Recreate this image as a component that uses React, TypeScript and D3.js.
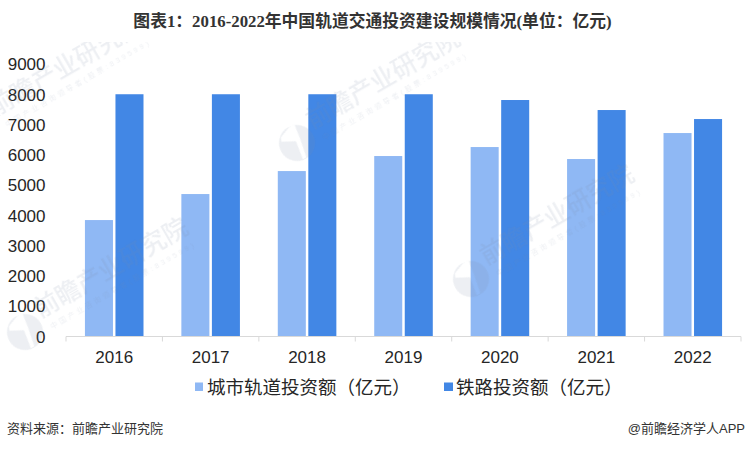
import React from "react";
import * as d3 from "d3";

const years = ["2016", "2017", "2018", "2019", "2020", "2021", "2022"];
const urbanRail = [3850, 4710, 5470, 5967, 6264, 5868, 6727];
const railway = [8010, 8010, 8010, 8010, 7819, 7488, 7190];
const yTicks = [0, 1000, 2000, 3000, 4000, 5000, 6000, 7000, 8000, 9000];
const seriesNames = ["城市轨道投资额（亿元）", "铁路投资额（亿元）"];
const seriesColors = ["#8fb8f4", "#4287e5"];
const title = "图表1：2016-2022年中国轨道交通投资建设规模情况(单位：亿元)";
const sourceText = "资料来源：前瞻产业研究院";
const brandText = "@前瞻经济学人APP";
const watermarkMain = "前瞻产业研究院";
const watermarkSub = "中国产业咨询领导者(股票:839599)";
const watermarkSpots = [
  [-20, 130],
  [25, 332],
  [297, 143],
  [471, 279],
];

const W = 745;
const H = 449;
const cjk = '"Liberation Sans", "Noto Sans CJK SC", sans-serif';
const titleFont = '"Liberation Serif", "Noto Sans CJK SC", serif';
const logoPath =
  "M-18,0 A18,18 0 1,1 18,0 A18,18 0 1,1 -18,0 Z " +
  "M2,-18 L7,-17 L5,-3 L1,17 L-3,17 L0,-2 L-13,-9 L-11,-13 Z";

export default function App() {
  const x = d3.scaleBand<string>().domain(years).range([66, 741]);
  const inner = d3
    .scaleBand<number>()
    .domain([0, 1])
    .range([0, x.bandwidth()])
    .paddingInner(0.082)
    .paddingOuter(0.62);
  const y = d3.scaleLinear().domain([0, 9000]).range([336.5, 64.3]);

  return (
    <svg
      width={W}
      height={H}
      viewBox={`0 0 ${W} ${H}`}
      style={{ position: "absolute", left: 0, top: 0, background: "#fff" }}
    >
      <defs>
        <clipPath id="wm">
          <rect x={0} y={42} width={W} height={H - 42} />
        </clipPath>
      </defs>

      <text
        x={372.5}
        y={27}
        textAnchor="middle"
        fontFamily={titleFont}
        fontWeight="bold"
        fontSize={16.8}
        fill="#333"
      >
        {title}
      </text>

      {yTicks.map((t) => (
        <text
          key={t}
          x={45.5}
          y={y(t) + 6}
          textAnchor="end"
          fontFamily={cjk}
          fontSize={17}
          fill="#262626"
        >
          {t}
        </text>
      ))}

      {years.map((yr, i) => (
        <g key={yr}>
          {[urbanRail[i], railway[i]].map((v, s) => (
            <rect
              key={s}
              x={(x(yr) as number) + (inner(s) as number)}
              y={y(v)}
              width={inner.bandwidth()}
              height={y(0) - y(v)}
              fill={seriesColors[s]}
            />
          ))}
          <text
            x={(x(yr) as number) + x.bandwidth() / 2}
            y={363}
            textAnchor="middle"
            fontFamily={cjk}
            fontSize={17}
            fill="#262626"
          >
            {yr}
          </text>
        </g>
      ))}

      <line x1={66} x2={741} y1={336.5} y2={336.5} stroke="#d9d9d9" strokeWidth={1} />
      {[...years.map((yr) => x(yr) as number), 741].map((tx, i) => (
        <line key={i} x1={tx} x2={tx} y1={336.5} y2={341.5} stroke="#d9d9d9" strokeWidth={1} />
      ))}

      <rect x={195} y={382.5} width={8} height={8.5} fill={seriesColors[0]} />
      <text x={207} y={393.5} fontFamily={cjk} fontSize={18.5} fill="#262626">
        {seriesNames[0]}
      </text>
      <rect x={444} y={382.5} width={9} height={8.5} fill={seriesColors[1]} />
      <text x={456} y={393.5} fontFamily={cjk} fontSize={18.5} fill="#262626">
        {seriesNames[1]}
      </text>

      <text x={7} y={433} fontFamily={cjk} fontSize={13} fill="#333">
        {sourceText}
      </text>
      <text x={745} y={433} textAnchor="end" fontFamily={cjk} fontSize={13} fill="#333">
        {brandText}
      </text>

      <g clipPath="url(#wm)" fill="#7f8ea8" opacity={0.14}>
        {watermarkSpots.map(([wx, wy], i) => (
          <g key={i} transform={`translate(${wx},${wy}) rotate(-30)`}>
            <path d={logoPath} fillRule="evenodd" />
            <text x={20} y={-4} fontFamily={cjk} fontWeight={500} fontSize={24.7}>
              {watermarkMain}
            </text>
            <text x={25} y={11} fontFamily={cjk} fontSize={7} letterSpacing={3}>
              {watermarkSub}
            </text>
          </g>
        ))}
      </g>
    </svg>
  );
}
